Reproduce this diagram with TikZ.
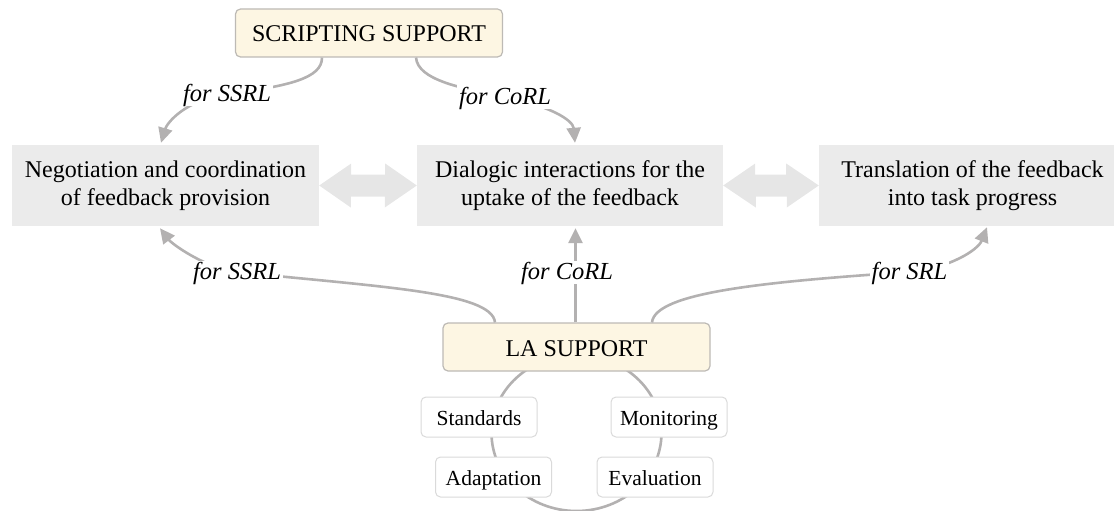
\documentclass[tikz,border=0pt]{standalone}
\usepackage{fontspec}
\setmainfont{Liberation Serif}
\usetikzlibrary{arrows.meta,calc}
\definecolor{cream}{HTML}{FDF6E3}
\definecolor{boxgray}{HTML}{EBEBEB}
\definecolor{arrgray}{HTML}{E6E6E6}
\definecolor{linegray}{HTML}{B3B1B1}
\definecolor{edgegray}{HTML}{BDBAB5}
\definecolor{smalledge}{HTML}{DADADA}
\begin{document}
\begin{tikzpicture}[x=1pt,y=1pt,
 head/.style={draw=edgegray, fill=cream, rounded corners=5pt, line width=1.2pt, minimum width=267pt, minimum height=48pt, inner sep=0pt, text height=18pt, text depth=0pt, font=\fontsize{24}{28}\selectfont},
 stage/.style={fill=boxgray, inner sep=0pt, minimum height=81pt, minimum width=307pt, align=center, font=\fontsize{24}{27.7}\selectfont},
 small/.style={draw=smalledge, fill=white, rounded corners=5pt, line width=1pt, minimum width=116pt, minimum height=40pt, inner sep=0pt, text height=17pt, text depth=1pt, font=\fontsize{21.5}{24}\selectfont},
 link/.style={draw=linegray, line width=2.6pt},
 conn/.style={link, -{Triangle[length=15pt,width=14pt]}},
 lbl/.style={fill=white, inner sep=2pt, text height=17pt, text depth=2pt, font=\fontsize{24.5}{28}\selectfont\itshape},
 dblarrow/.style={fill=arrgray}]
\useasboundingbox (0,0) rectangle (1114,-511);

% ring behind the LA support cluster
\draw[link] (576.5,-433) ellipse [x radius=85, y radius=78];

% main nodes
\node[head] (scr) at (369,-33) {SCRIPTING SUPPORT};
\node[head] (la) at (576.5,-347) {LA SUPPORT};
\node[stage] (neg) at (165.5,-185.5) {Negotiation and coordination\\of feedback provision};
\node[stage, minimum width=306pt] (dia) at (570,-185.5) {Dialogic interactions for the\\uptake of the feedback};
\node[stage] (tra) at (972.5,-185.5) {Translation of the feedback\\into task progress};

\node[small] (std) at (479,-417) {Standards};
\node[small] (mon) at (669,-417) {Monitoring};
\node[small] (ada) at (493.5,-477) {Adaptation};
\node[small] (eva) at (655,-477) {Evaluation};

% double arrows between stages
\fill[dblarrow] (neg.east) -- ++(32,22) -- ++(0,-11) -- ++(34,0) -- ++(0,11) -- (dia.west) -- ++(-32,-22) -- ++(0,11) -- ++(-34,0) -- ++(0,-11) -- cycle;
\fill[dblarrow] (dia.east) -- ++(32,22) -- ++(0,-11) -- ++(31,0) -- ++(0,11) -- (tra.west) -- ++(-32,-22) -- ++(0,11) -- ++(-31,0) -- ++(0,-11) -- cycle;

% connector end points
\coordinate (s1) at ($(scr.south)+(-47,0)$);
\coordinate (s2) at ($(scr.south)+(47,0)$);
\coordinate (l1) at ($(la.north)+(-81.5,0)$);
\coordinate (l2) at ($(la.north)+(-1,0)$);
\coordinate (l3) at ($(la.north)+(75.5,0)$);
\coordinate (negTop) at ($(neg.north)+(-4.5,2)$);
\coordinate (diaTop) at ($(dia.north)+(5,2)$);
\coordinate (negBot) at ($(neg.south)+(-5.5,-2)$);
\coordinate (diaBot) at ($(dia.south)+(5.5,-2)$);
\coordinate (traBot) at ($(tra.south)+(14.5,-1)$);

% label positions
\coordinate (pA) at (227,-94);
\coordinate (pB) at (505,-97);
\coordinate (pC) at (237,-272);
\coordinate (pD) at (567,-272);
\coordinate (pE) at (909.5,-272);

% connectors
\draw[conn] (s1) .. controls (322,-78) and (290,-86) .. (pA) .. controls (185,-100) and (167,-123) .. (negTop);
\draw[conn] (s2) .. controls (418,-80) and (460,-88) .. (pB) .. controls (550,-106) and (573,-120) .. (diaTop);
\draw[conn] (l1) .. controls (492,-292) and (380,-287) .. (pC) .. controls (205,-268) and (172,-244) .. (negBot);
\draw[conn] (l2) -- (diaBot);
\draw[conn] (l3) .. controls (655,-293) and (760,-282) .. (pE) .. controls (950,-268) and (978,-250) .. (traBot);

% labels
\node[lbl] (a) at (pA) {for SSRL};
\node[lbl] (b) at (pB) {for CoRL};
\node[lbl] (c) at (pC) {for SSRL};
\node[lbl] (d) at (pD) {for CoRL};
\node[lbl] (e) at (pE) {for SRL};
\end{tikzpicture}
\end{document}
